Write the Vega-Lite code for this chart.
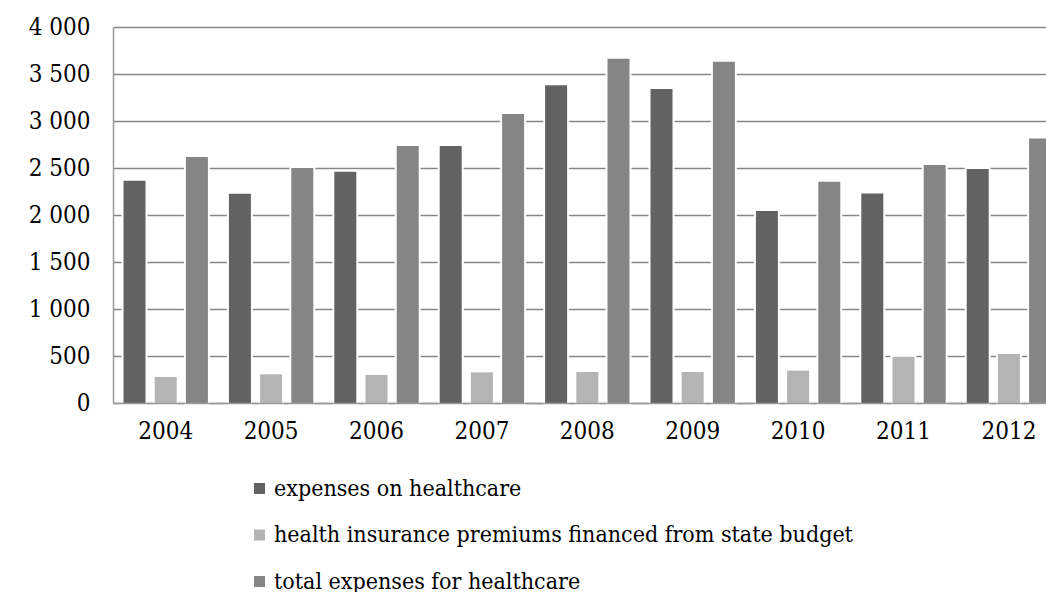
{
  "$schema": "https://vega.github.io/schema/vega-lite/v6.json",
  "autosize": "none",
  "width": 933,
  "height": 376,
  "padding": {"left": 113, "top": 27, "right": 0, "bottom": 189},
  "background": "white",
  "config": {"view": {"stroke": null}, "font": "DejaVu Serif Condensed"},
  "data": {
    "values": [
      {"year": "2004", "series": "expenses on healthcare", "value": 2365},
      {"year": "2004", "series": "health insurance premiums financed from state budget", "value": 277},
      {"year": "2004", "series": "total expenses for healthcare", "value": 2617},
      {"year": "2005", "series": "expenses on healthcare", "value": 2227},
      {"year": "2005", "series": "health insurance premiums financed from state budget", "value": 305},
      {"year": "2005", "series": "total expenses for healthcare", "value": 2500},
      {"year": "2006", "series": "expenses on healthcare", "value": 2461},
      {"year": "2006", "series": "health insurance premiums financed from state budget", "value": 298},
      {"year": "2006", "series": "total expenses for healthcare", "value": 2734},
      {"year": "2007", "series": "expenses on healthcare", "value": 2734},
      {"year": "2007", "series": "health insurance premiums financed from state budget", "value": 326},
      {"year": "2007", "series": "total expenses for healthcare", "value": 3074},
      {"year": "2008", "series": "expenses on healthcare", "value": 3379},
      {"year": "2008", "series": "health insurance premiums financed from state budget", "value": 330},
      {"year": "2008", "series": "total expenses for healthcare", "value": 3663},
      {"year": "2009", "series": "expenses on healthcare", "value": 3340},
      {"year": "2009", "series": "health insurance premiums financed from state budget", "value": 330},
      {"year": "2009", "series": "total expenses for healthcare", "value": 3631},
      {"year": "2010", "series": "expenses on healthcare", "value": 2043},
      {"year": "2010", "series": "health insurance premiums financed from state budget", "value": 344},
      {"year": "2010", "series": "total expenses for healthcare", "value": 2354},
      {"year": "2011", "series": "expenses on healthcare", "value": 2230},
      {"year": "2011", "series": "health insurance premiums financed from state budget", "value": 493},
      {"year": "2011", "series": "total expenses for healthcare", "value": 2532},
      {"year": "2012", "series": "expenses on healthcare", "value": 2489},
      {"year": "2012", "series": "health insurance premiums financed from state budget", "value": 521},
      {"year": "2012", "series": "total expenses for healthcare", "value": 2815}
    ]
  },
  "encoding": {
    "x": {
      "field": "year",
      "type": "nominal",
      "scale": {"range": [0, 948.6], "paddingInner": 0, "paddingOuter": 0},
      "axis": {
        "title": null,
        "labelAngle": 0,
        "labelFontSize": 24,
        "labelFont": "DejaVu Serif Condensed",
        "labelColor": "#000000",
        "labelPadding": 16,
        "ticks": false,
        "domainColor": "#9a9a9a",
        "domainWidth": 1.5,
        "zindex": 1
      }
    },
    "xOffset": {
      "field": "series",
      "type": "nominal",
      "sort": ["expenses on healthcare", "health insurance premiums financed from state budget", "total expenses for healthcare"],
      "scale": {"paddingInner": 0.295, "paddingOuter": 0.337}
    },
    "y": {
      "field": "value",
      "type": "quantitative",
      "scale": {"domain": [0, 4000], "nice": false},
      "axis": {
        "title": null,
        "values": [0, 500, 1000, 1500, 2000, 2500, 3000, 3500, 4000],
        "labelExpr": "replace(format(datum.value, ','), ',', ' ')",
        "labelFontSize": 24,
        "labelFont": "DejaVu Serif Condensed",
        "labelColor": "#000000",
        "labelPadding": 23,
        "ticks": false,
        "domainColor": "#9a9a9a",
        "domainWidth": 1.5,
        "gridColor": "#868686",
        "gridWidth": 1.5
      }
    }
  },
  "layer": [
    {
      "mark": {"type": "bar", "fill": "#ffffff", "stroke": "#ffffff", "strokeWidth": 4}
    },
    {
      "mark": {"type": "bar"},
      "encoding": {
        "color": {
          "field": "series",
          "type": "nominal",
          "scale": {
            "domain": ["expenses on healthcare", "health insurance premiums financed from state budget", "total expenses for healthcare"],
            "range": ["#626262", "#b4b4b4", "#858585"]
          },
          "legend": {
            "title": null,
            "orient": "none",
            "legendX": 135,
            "legendY": 450,
            "direction": "vertical",
            "symbolType": "square",
            "symbolSize": 121,
            "symbolStrokeWidth": 0,
            "labelFontSize": 23,
            "labelFont": "DejaVu Serif Condensed",
            "labelColor": "#000000",
            "labelOffset": 3,
            "labelLimit": 0,
            "rowPadding": 22.5
          }
        }
      }
    }
  ]
}
